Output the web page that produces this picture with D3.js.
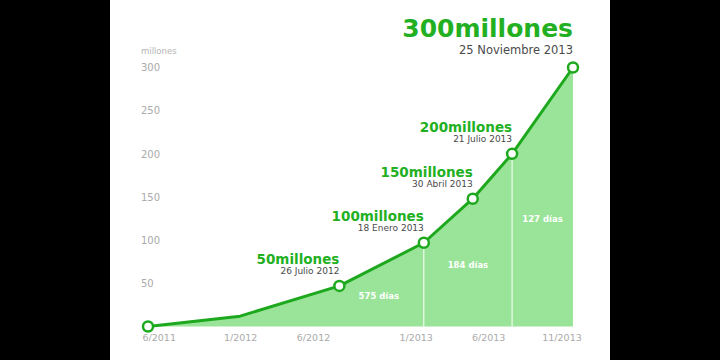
<!DOCTYPE html>
<html lang="es">
<head>
    <meta charset="UTF-8">
    <title>LINE usuarios</title>
    <script src="https://d3js.org/d3.v7.min.js"></script>
    <style>
        body { margin: 0; background: #000; }
        .axis text { font-family: "DejaVu Sans", sans-serif; fill: #aaa; }
        .axis .domain { display: none; }
    </style>
</head>
<body>
<script>
    // datos
    var dates = ["2011-06-23", "2012-01-01", "2012-07-26", "2013-01-18", "2013-04-30", "2013-07-21", "2013-11-25"];
    var users = [0, 12, 47, 97, 148, 200, 300];
    var milestoneTitles = [null, null, "50millones", "100millones", "150millones", "200millones", "300millones"];
    var milestoneDates = [null, null, "26 Julio 2012", "18 Enero 2013", "30 Abril 2013", "21 Julio 2013", "25 Noviembre 2013"];
    var yTicks = [50, 100, 150, 200, 250, 300];
    var xTickDates = ["2011-06-01", "2012-01-01", "2012-06-01", "2013-01-01", "2013-06-01", "2013-11-01"];
    var xTickLabels = ["6/2011", "1/2012", "6/2012", "1/2013", "6/2013", "11/2013"];
    var segmentBreaks = ["2011-06-23", "2013-01-18", "2013-07-21", "2013-11-25"];

    var width = 720, height = 360;
    var green = '#22b022', lineGreen = '#1ea81e', areaGreen = '#99e498';

    var parse = d3.timeParse('%Y-%m-%d');
    var data = dates.map(function (d, i) {
        return {date: parse(d), value: users[i], title: milestoneTitles[i], sub: milestoneDates[i]};
    });

    var svg = d3.select('body').append('svg')
        .attr('width', width)
        .attr('height', height);

    // fondo blanco entre las bandas negras
    svg.append('rect')
        .attr('x', 110).attr('y', 0)
        .attr('width', 500).attr('height', height)
        .attr('fill', '#fff');

    var xscale = d3.scaleTime()
        .domain([data[0].date, data[data.length - 1].date])
        .range([148, 573])
        .clamp(true);

    var yscale = d3.scaleLinear()
        .domain([0, 300])
        .range([326.5, 67.5]);

    // area
    var area = d3.area()
        .x(function (d) { return xscale(d.date); })
        .y0(yscale(0))
        .y1(function (d) { return yscale(d.value); });

    svg.append('path')
        .datum(data)
        .attr('d', area)
        .attr('fill', areaGreen);

    // separadores de tramos
    var breaks = segmentBreaks.map(parse);
    var bisect = d3.bisector(function (d) { return d.date; }).left;
    function valueAt(date) {
        var i = bisect(data, date);
        if (i <= 0) return data[0].value;
        if (i >= data.length) return data[data.length - 1].value;
        var a = data[i - 1], b = data[i];
        var t = (date - a.date) / (b.date - a.date);
        return a.value + t * (b.value - a.value);
    }

    svg.selectAll('.sep')
        .data(breaks.slice(1, -1))
        .enter()
        .append('line')
        .attr('class', 'sep')
        .attr('x1', xscale).attr('x2', xscale)
        .attr('y1', function (d) { return yscale(valueAt(d)); })
        .attr('y2', yscale(0))
        .attr('stroke', '#fff')
        .attr('stroke-width', 1);

    // etiquetas de dias
    var segments = d3.range(breaks.length - 1).map(function (i) {
        return {from: breaks[i], to: breaks[i + 1], days: d3.timeDay.count(breaks[i], breaks[i + 1])};
    });

    function labelX(d) {
        var x0 = xscale(d.from), x1 = xscale(d.to);
        return x1 - Math.min((x1 - x0) / 2, 45);
    }

    svg.selectAll('.days')
        .data(segments)
        .enter()
        .append('text')
        .attr('class', 'days')
        .attr('x', labelX)
        .attr('y', function (d) {
            return (yscale(0) + yscale(valueAt(xscale.invert(labelX(d))))) / 2;
        })
        .attr('dy', '0.35em')
        .attr('text-anchor', 'middle')
        .attr('font-family', 'DejaVu Sans, sans-serif')
        .attr('font-weight', 'bold')
        .attr('font-size', 8.5)
        .attr('fill', '#fff')
        .text(function (d) { return d.days + ' días'; });

    // linea
    var line = d3.line()
        .x(function (d) { return xscale(d.date); })
        .y(function (d) { return yscale(d.value); });

    svg.append('path')
        .datum(data)
        .attr('d', line)
        .attr('fill', 'none')
        .attr('stroke', lineGreen)
        .attr('stroke-width', 3)
        .attr('stroke-linejoin', 'round');

    // marcadores
    var marked = data.filter(function (d, i) { return i === 0 || d.title; });
    svg.selectAll('.dot')
        .data(marked)
        .enter()
        .append('circle')
        .attr('class', 'dot')
        .attr('cx', function (d) { return xscale(d.date); })
        .attr('cy', function (d) { return yscale(d.value); })
        .attr('r', 5)
        .attr('fill', '#fff')
        .attr('stroke', lineGreen)
        .attr('stroke-width', 2.5);

    // titulos de hitos
    var labeled = data.filter(function (d) { return d.title; });
    var last = labeled[labeled.length - 1];

    var lab = svg.selectAll('.milestone')
        .data(labeled)
        .enter()
        .append('g')
        .attr('class', 'milestone')
        .attr('transform', function (d) {
            return 'translate(' + xscale(d.date) + ',' + yscale(d.value) + ')';
        });

    lab.append('text')
        .attr('text-anchor', 'end')
        .attr('y', function (d) { return d === last ? -31 : -22; })
        .attr('font-family', 'DejaVu Sans, sans-serif')
        .attr('font-weight', 'bold')
        .attr('font-size', function (d) { return d === last ? 25 : 13.5; })
        .attr('fill', green)
        .text(function (d) { return d.title; });

    lab.append('text')
        .attr('text-anchor', 'end')
        .attr('y', function (d) { return d === last ? -14 : -12; })
        .attr('font-family', 'DejaVu Sans, sans-serif')
        .attr('font-size', function (d) { return d === last ? 11.5 : 9; })
        .attr('fill', '#4a4a4a')
        .text(function (d) { return d.sub; });

    // ejes
    var yaxis = d3.axisRight(yscale)
        .tickValues(yTicks)
        .tickSize(0)
        .tickPadding(0);

    svg.append('g')
        .attr('class', 'axis')
        .attr('transform', 'translate(141,0)')
        .call(yaxis)
        .selectAll('text')
        .attr('font-size', 10);

    svg.append('text')
        .attr('x', 141)
        .attr('y', 54)
        .attr('font-family', 'DejaVu Sans, sans-serif')
        .attr('font-size', 8.5)
        .attr('fill', '#b5b5b5')
        .text('millones');

    var xaxis = d3.axisBottom(xscale)
        .tickValues(xTickDates.map(parse))
        .tickSize(0)
        .tickPadding(8)
        .tickFormat(function (d, i) { return xTickLabels[i]; });

    svg.append('g')
        .attr('class', 'axis')
        .attr('transform', 'translate(0,' + yscale(0) + ')')
        .call(xaxis)
        .selectAll('text')
        .attr('font-size', 9.5)
        .attr('text-anchor', function (d, i) { return i === 0 ? 'start' : 'middle'; })
        .attr('dx', function (d, i) { return i === 0 ? -6 : 0; });
</script>
</body>
</html>
